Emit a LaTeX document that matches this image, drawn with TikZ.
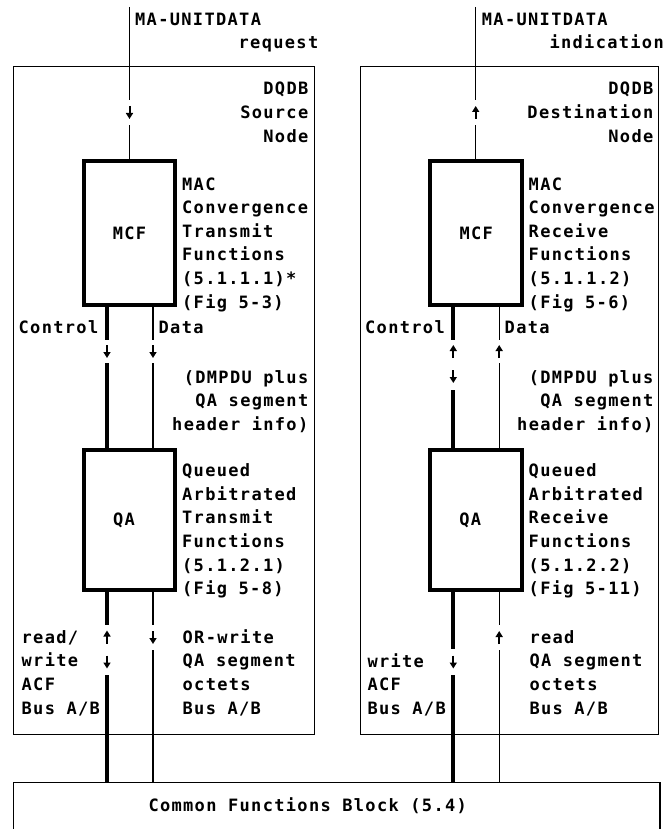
\documentclass[tikz,border=0pt]{standalone}
\usepackage{fontspec}
\usetikzlibrary{arrows.meta}
\newfontfamily\lblfamily{DejaVu Sans Mono}[LetterSpace=7.8]
\newcommand\lbl{\lblfamily\bfseries\fontsize{17pt}{23.6pt}\selectfont}
\newcommand\leftlines[1]{\parbox[t]{200pt}{\raggedright #1}}
\newcommand\rightlines[1]{\parbox[t]{200pt}{\raggedleft #1}}
\begin{document}
\begin{tikzpicture}[x=1pt,y=-1pt,
  txt/.style={inner sep=0pt,font=\lbl},
  ltxt/.style={txt,anchor=base west},
  rtxt/.style={txt,anchor=base east},
  panel/.style={draw,line width=1.3pt,inner sep=0pt,minimum height=668pt},
  fbox/.style={draw,line width=4pt,inner sep=0pt,minimum width=91.6pt,font=\lbl},
  gap/.style={inner sep=0pt,minimum width=6pt,minimum height=#1},
  bus/.style={line width=4pt},
  sig/.style={line width=1.4pt},
  arr/.style={line width=2pt,-{Triangle[length=6pt,width=7pt]}},
]
\useasboundingbox (0,0) rectangle (665,829);

% node frames and the common block
\node[panel,minimum width=301.2pt] (srcnode) at (163.9,400.8) {};
\node[panel,minimum width=298pt] (dstnode) at (509.5,400.8) {};
\node[draw,line width=1.3pt,inner sep=0pt,minimum width=646.7pt,minimum height=77pt] (cfb) at (336.7,821.2) {};
\node[ltxt] (cfbl) at (148.3,811) {Common Functions Block (5.4)};

% function blocks
\node[fbox,minimum height=143.4pt] (mcfS) at (129.5,233) {MCF};
\node[fbox,minimum height=139.4pt] (qaS) at (129.5,520) {QA\hspace*{11pt}};
\node[fbox,minimum height=143.4pt] (mcfD) at (476.2,233) {MCF};
\node[fbox,minimum height=139.4pt] (qaD) at (476.2,520) {QA\hspace*{12pt}};

% gaps in the lines that hold the direction arrows
\node[gap=25pt] (inS) at (129.5,112.5) {};
\node[gap=23pt] (ctlS1) at (107,351.5) {};
\node[gap=23pt] (datS1) at (153,351.5) {};
\node[gap=24pt] (ctlS2) at (107,637) {};
\node[gap=26pt] (ctlS3) at (107,662) {};
\node[gap=25pt] (datS2) at (153,637.5) {};
\node[gap=25pt] (inD) at (475.7,112.5) {};
\node[gap=23pt] (ctlD1) at (453.3,351.5) {};
\node[gap=27pt] (ctlD2) at (453.3,376.5) {};
\node[gap=23pt] (datD1) at (499.2,351.5) {};
\node[gap=26pt] (ctlD3) at (453.3,662) {};
\node[gap=25pt] (datD2) at (499.2,637.5) {};
\coordinate (topS) at (129.5,7);
\coordinate (topD) at (475.7,7);

% service primitives
\draw[sig] (topS) -- (inS.north);
\draw[sig] (inS.south) -- (mcfS.north);
\draw[sig] (topD) -- (inD.north);
\draw[sig] (inD.south) -- (mcfD.north -| inD);

% MCF to QA
\draw[bus] (mcfS.south -| ctlS1) -- (ctlS1.north);
\draw[bus] (ctlS1.south) -- (qaS.north -| ctlS1);
\draw[sig] (mcfS.south -| datS1) -- (datS1.north);
\draw[sig] (datS1.south) -- (qaS.north -| datS1);
\draw[bus] (mcfD.south -| ctlD1) -- (ctlD1.north);
\draw[bus] (ctlD2.south) -- (qaD.north -| ctlD2);
\draw[sig] (mcfD.south -| datD1) -- (datD1.north);
\draw[sig] (datD1.south) -- (qaD.north -| datD1);

% QA to the common functions block
\draw[bus] (qaS.south -| ctlS2) -- (ctlS2.north);
\draw[bus] (ctlS3.south) -- (cfb.north -| ctlS3);
\draw[sig] (qaS.south -| datS2) -- (datS2.north);
\draw[sig] (datS2.south) -- (cfb.north -| datS2);
\draw[bus] (qaD.south -| ctlD3) -- (ctlD3.north);
\draw[bus] (ctlD3.south) -- (cfb.north -| ctlD3);
\draw[sig] (qaD.south -| datD2) -- (datD2.north);
\draw[sig] (datD2.south) -- (cfb.north -| datD2);

% direction arrows
\foreach \n in {inS,ctlS1,datS1,ctlS3,datS2,ctlD2,ctlD3}
  \draw[arr] ([yshift=6.5pt]\n.center) -- ([yshift=-6.5pt]\n.center);
\foreach \n in {ctlS2,inD,ctlD1,datD1,datD2}
  \draw[arr] ([yshift=-6.5pt]\n.center) -- ([yshift=6.5pt]\n.center);

% labels
\node[ltxt] (reqa) at (135,26) {MA-UNITDATA};
\node[rtxt] (reqb) at (318.5,48.5) {request};
\node[ltxt] (inda) at (481.7,26) {MA-UNITDATA};
\node[rtxt] (indb) at (664,48.5) {indication};
\node[rtxt] (srcname) at (308.5,95) {\rightlines{DQDB\\Source\\Node}};
\node[rtxt] (dstname) at (653.5,95) {\rightlines{DQDB\\Destination\\Node}};
\node[ltxt] (mcfSd) at (182,190) {\leftlines{MAC\\Convergence\\Transmit\\Functions\\(5.1.1.1)*\\(Fig 5-3)}};
\node[ltxt] (mcfDd) at (528.5,190) {\leftlines{MAC\\Convergence\\Receive\\Functions\\(5.1.1.2)\\(Fig 5-6)}};
\node[rtxt] (ctlSl) at (98.5,333.3) {Control};
\node[ltxt] (datSl) at (158.5,333.3) {Data};
\node[rtxt] (ctlDl) at (445,333.3) {Control};
\node[ltxt] (datDl) at (504.5,333.3) {Data};
\node[rtxt] (pduS) at (308.5,383.3) {\rightlines{(DMPDU plus\\QA segment\\header info)}};
\node[rtxt] (pduD) at (653.5,383.3) {\rightlines{(DMPDU plus\\QA segment\\header info)}};
\node[ltxt] (qaSd) at (182,476.7) {\leftlines{Queued\\Arbitrated\\Transmit\\Functions\\(5.1.2.1)\\(Fig 5-8)}};
\node[ltxt] (qaDd) at (528.5,476.7) {\leftlines{Queued\\Arbitrated\\Receive\\Functions\\(5.1.2.2)\\(Fig 5-11)}};
\node[ltxt] (busS) at (21.5,643.3) {\leftlines{read/\\write\\ACF\\Bus A/B}};
\node[ltxt] (segS) at (182.5,643.3) {\leftlines{OR-write\\QA segment\\octets\\Bus A/B}};
\node[ltxt] (busD) at (367.3,667) {\leftlines{write\\ACF\\Bus A/B}};
\node[ltxt] (segD) at (529.3,643.3) {\leftlines{read\\QA segment\\octets\\Bus A/B}};
\end{tikzpicture}
\end{document}
